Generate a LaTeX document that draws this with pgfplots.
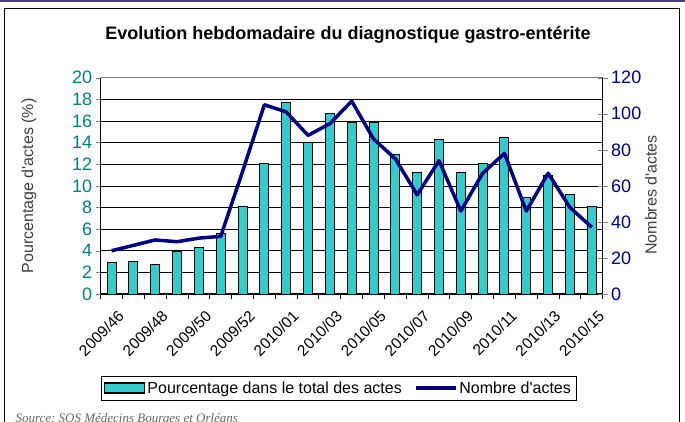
\documentclass[border=0pt]{standalone}
\usepackage{pgfplots}
\pgfplotsset{compat=1.18}
\usepackage{pgfplotstable}
\usepackage{fontspec}
\setmainfont{Liberation Sans}[Ligatures=TeXOff]
\newfontfamily\sourcefont{Liberation Serif}
\frenchspacing

\definecolor{barcol}{RGB}{51,204,204}
\definecolor{navyc}{RGB}{0,0,128}
\definecolor{tealc}{RGB}{0,128,128}
\definecolor{topline}{RGB}{72,60,120}

% weekly share of visits (%) and number of visits, 2009/46 -> 2010/15
\pgfplotstableread{
idx pct  nb
0   2.9  24
1   3.0  27
2   2.7  30
3   3.9  29
4   4.3  31
5   5.6  32
6   8.1  68
7   12.1 105
8   17.7 101
9   14.0 88
10  16.7 94.5
11  15.9 107
12  15.85 86
13  12.9 75
14  11.2 55
15  14.3 74
16  11.2 46
17  12.1 67
18  14.5 78
19  8.9  46
20  11.0 67
21  9.2  48
22  8.1  37
}\weektable

\pgfplotsset{
  common/.style={
    at={(100.7pt,-294pt)}, anchor=south west, scale only axis,
    width=502pt, height=216.3pt,
    xmin=-0.5, xmax=22.5,
    /pgf/number format/assume math mode=true,
    tick label style={font=\fontsize{18}{20}\selectfont},
  },
}

\begin{document}
\begin{tikzpicture}
\path[use as bounding box] (0pt,0pt) rectangle (685pt,-421pt);
\draw[topline, line width=2.5pt] (0pt,-1pt) -- (685pt,-1pt);
\draw[black, line width=1pt] (4.5pt,-425pt) -- (4.5pt,-8.5pt) -- (679.5pt,-8.5pt) -- (679.5pt,-425pt);
\node[font=\bfseries\fontsize{18}{20}\selectfont] at (348pt,-35pt)
  {Evolution hebdomadaire du diagnostique gastro-entérite};

\begin{axis}[
  common,
  ymin=0, ymax=20,
  axis x line*=bottom, axis y line*=left,
  axis line style={black, line width=1.2pt},
  ytick={0,2,...,20},
  ytick align=outside, major tick length=5pt,
  yticklabel style={text=tealc},
  xtick={0,2,...,22},
  xticklabels={2009/46,2009/48,2009/50,2009/52,2010/01,2010/03,2010/05,2010/07,2010/09,2010/11,2010/13,2010/15},
  xticklabel style={rotate=45, anchor=east, yshift=-17pt,
    font=\fontsize{15.5}{17}\selectfont},
  minor xtick={-0.5,0.5,...,22.5},
  xtick align=outside,
  x tick style={draw=none},
  minor x tick style={draw=black, line width=1pt},
  minor tick length=5pt,
  ymajorgrids, grid style={black, line width=0.7pt},
  ylabel={Pourcentage d'actes (\%)},
  every axis y label/.style={at={(axis description cs:-0.143,0.5)}, rotate=90, anchor=center,
    font=\fontsize{16}{18}\selectfont, text=black!75},
  legend columns=2,
  legend style={at={(axis description cs:0.4737,-0.4346)}, anchor=center,
    draw=black, line width=0.8pt, font=\fontsize{16}{18}\selectfont,
    inner xsep=3pt, inner ysep=3.5pt,
    /tikz/every even column/.append style={column sep=10pt}},
]
\addplot[ybar, bar width=9pt, draw=black, line width=1pt, fill=barcol,
  legend image code/.code={\draw[fill=barcol, draw=black, line width=1.4pt] (0pt,-5pt) rectangle (40pt,5pt);}]
  table[x=idx, y=pct] {\weektable};
\addlegendentry{Pourcentage dans le total des actes}
\addlegendimage{legend image code/.code={\draw[navyc, line width=3.5pt] (0pt,0pt) -- (40pt,0pt);}}
\addlegendentry{Nombre d'actes}
\draw[gray, line width=1pt] (rel axis cs:0,1) -- (rel axis cs:1,1);
\end{axis}

\begin{axis}[
  common,
  ymin=0, ymax=120,
  axis y line*=right, axis x line=none,
  axis line style={black, line width=1.2pt},
  ytick={0,20,...,120},
  ytick align=center, major tick length=10pt,
  yticklabel style={text=navyc},
  ylabel={Nombres d'actes},
  every axis y label/.style={at={(axis description cs:1.096,0.458)}, rotate=90, anchor=center,
    font=\fontsize{16}{18}\selectfont, text=black!75},
]
\addplot[navyc, line width=3.5pt, mark=none, line join=round]
  table[x=idx, y=nb] {\weektable};
\end{axis}

\node[anchor=base west, font=\sourcefont\itshape\fontsize{13}{13}\selectfont, text=black!60]
  at (12pt,-422pt) {Source: SOS Médecins Bourges et Orléans};
\end{tikzpicture}
\end{document}
